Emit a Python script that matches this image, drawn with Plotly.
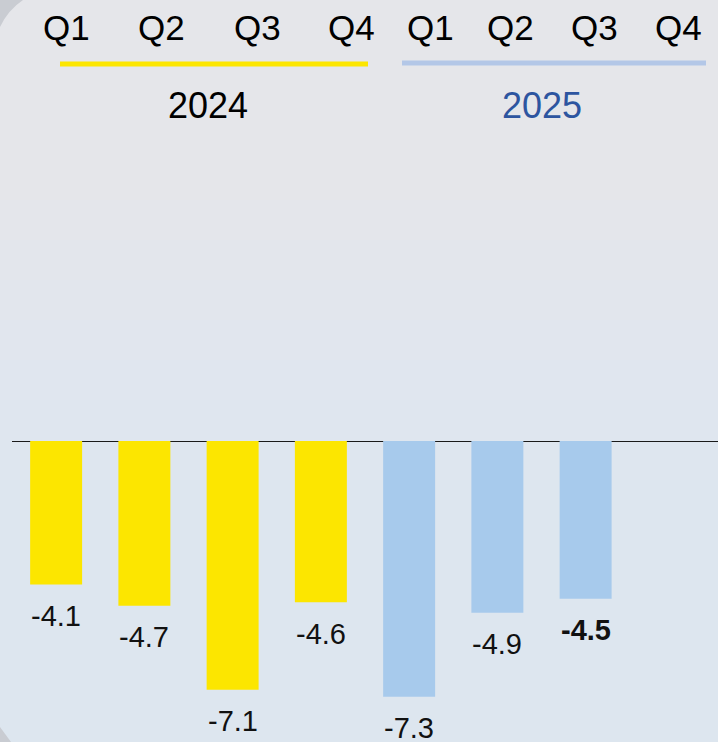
import plotly.graph_objects as go

# ---- data ----
categories = ["Q1 2024", "Q2 2024", "Q3 2024", "Q4 2024",
              "Q1 2025", "Q2 2025", "Q3 2025", "Q4 2025"]
values = [-4.1, -4.7, -7.1, -4.6, -7.3, -4.9, -4.5, None]
value_labels = ["-4.1", "-4.7", "-7.1", "-4.6", "-7.3", "-4.9", "<b>-4.5</b>", ""]
quarter_labels = ["Q1", "Q2", "Q3", "Q4", "Q1", "Q2", "Q3", "Q4"]
year_labels = ["2024", "2025"]

# ---- style ----
W, H = 718, 742
L = 12
YELLOW = "#FCE600"
BLUE_BAR = "#A7CAEC"
BLUE_LINE = "#B3C7E7"
YEAR_BLUE = "#2D55A0"
FONT = "Liberation Sans, Arial, sans-serif"
bar_colors = [YELLOW] * 4 + [BLUE_BAR] * 4

PX_PER_UNIT = 35.03
ZERO_PX = 441


def px_x(px):
    return (px - L) / (W - L)


def px_y(py):
    return 1 - py / H


fig = go.Figure()
fig.add_trace(go.Bar(
    x=categories, y=values, marker=dict(color=bar_colors, line=dict(width=0)),
    hoverinfo="skip", showlegend=False,
))

annotations = []
for c, v, t in zip(categories, values, value_labels):
    if v is None:
        continue
    annotations.append(dict(x=c, y=v, xref="x", yref="y", text=t, showarrow=False,
                            yanchor="middle", yshift=-31.5,
                            font=dict(family=FONT, size=29, color="#111111")))

q_centers = [66, 161, 257, 351, 430, 510, 594, 678]
for q, xc in zip(quarter_labels, q_centers):
    annotations.append(dict(x=px_x(xc), y=px_y(27), xref="paper", yref="paper", text=q,
                            showarrow=False, xanchor="center", yanchor="middle",
                            font=dict(family=FONT, size=35, color="#000000")))

year_centers = [208, 542]
year_colors = ["#000000", YEAR_BLUE]
for yl, xc, col in zip(year_labels, year_centers, year_colors):
    annotations.append(dict(x=px_x(xc), y=px_y(105.5), xref="paper", yref="paper", text=yl,
                            showarrow=False, xanchor="center", yanchor="middle",
                            font=dict(family=FONT, size=36, color=col)))

shapes = []
# soft gradient toward a light bluish tone lower down
for top in range(200, 742, 40):
    shapes.append(dict(type="rect", xref="paper", yref="paper", x0=-0.02, x1=1.0,
                       y0=px_y(H), y1=px_y(top), fillcolor="rgba(228,236,250,0.06)",
                       line=dict(width=0), layer="below"))
# corner decorations
shapes.append(dict(type="path", xref="paper", yref="paper",
                   path=f"M {px_x(0)},{px_y(0)} L {px_x(23)},{px_y(0)} Q {px_x(8)},{px_y(10)} {px_x(0)},{px_y(27)} Z",
                   fillcolor="#C9CCD2", line=dict(width=0), layer="below"))
shapes.append(dict(type="path", xref="paper", yref="paper",
                   path=f"M {px_x(0)},{px_y(727)} L {px_x(11)},{px_y(742)} L {px_x(0)},{px_y(742)} Z",
                   fillcolor="#C9CCD2", line=dict(width=0), layer="below"))
# year underlines
shapes.append(dict(type="line", xref="paper", yref="paper", x0=px_x(60), x1=px_x(368),
                   y0=px_y(64), y1=px_y(64), line=dict(color=YELLOW, width=5)))
shapes.append(dict(type="line", xref="paper", yref="paper", x0=px_x(402), x1=px_x(706),
                   y0=px_y(63), y1=px_y(63), line=dict(color=BLUE_LINE, width=5)))

y_top = ZERO_PX / PX_PER_UNIT
y_bot = -(H - ZERO_PX) / PX_PER_UNIT

fig.update_layout(
    width=W, height=H,
    margin=dict(l=L, r=0, t=0, b=0, pad=0),
    paper_bgcolor="#E5E6EA",
    plot_bgcolor="rgba(0,0,0,0)",
    bargap=0.411,
    xaxis=dict(type="category", range=[-0.5, 7.5], showticklabels=False, showgrid=False,
               zeroline=False, showline=False, ticks="", fixedrange=True),
    yaxis=dict(range=[y_bot, y_top], showticklabels=False, showgrid=False,
               zeroline=True, zerolinecolor="#1a1a1a", zerolinewidth=1, showline=False,
               ticks="", fixedrange=True),
    annotations=annotations,
    shapes=shapes,
    font=dict(family=FONT),
)

fig.write_html("out.html", config={"displayModeBar": False},
               post_script="document.body.style.margin='0';document.body.style.overflow='hidden';")
